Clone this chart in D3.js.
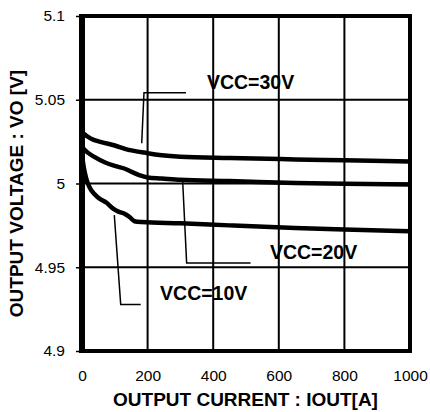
<!DOCTYPE html>
<html>
<head>
<meta charset="utf-8">
<script src="https://cdn.jsdelivr.net/npm/d3@7"></script>
<style>
	body { margin: 0; background: white; }
	svg { display: block; font-family: "Liberation Sans", Arial, sans-serif; }
</style>
</head>
<body>
<div id="chart"></div>
<script>
// output current (A) and output voltage (V)
const current30 = [0, 6, 28, 59, 100, 131, 200, 243, 300, 450, 650, 800, 1000];
const vo30 = [5.031, 5.0297, 5.0267, 5.0247, 5.0227, 5.0207, 5.0181, 5.0169, 5.0160, 5.0152, 5.0144, 5.0139, 5.0132];

const current20 = [0, 6, 39, 69, 100, 131, 160, 182, 200, 243, 300, 450, 650, 800, 1000];
const vo20 = [5.022, 5.0205, 5.0157, 5.0127, 5.0105, 5.0088, 5.0062, 5.0045, 5.0036, 5.0030, 5.0022, 5.0015, 5.0003, 4.9998, 4.9994];

const current10 = [0, 6, 13, 20, 30, 50, 75, 95, 111, 131, 145, 160, 182, 300, 450, 650, 800, 1000];
const vo10 = [5.017, 5.009, 5.003, 4.999, 4.9955, 4.9915, 4.9885, 4.985, 4.9832, 4.9818, 4.980, 4.9775, 4.977, 4.9762, 4.975, 4.9735, 4.9726, 4.9715];

const xTicks = [0, 200, 400, 600, 800, 1000];
const yTicks = [4.9, 4.95, 5, 5.05, 5.1];
const yTickLabels = ["4.9", "4.95", "5", "5.05", "5.1"];

const seriesNames = ["VCC=30V", "VCC=20V", "VCC=10V"];
// label anchor (current, voltage) and leader polyline for each series
const labelAt = [[381, 5.0564], [573, 4.9548], [238, 4.9303]];
const leaders = [
	[[317, 5.0542], [189, 5.0542], [182, 5.024]],
	[[514, 4.9526], [319, 4.9526], [307, 5.001]],
	[[179, 4.9278], [118, 4.9278], [98.5, 4.9811]]
];

const width = 430, height = 412;

const x = d3.scaleLinear().domain([0, 1000]).range([82, 410]);
const y = d3.scaleLinear().domain([4.9, 5.1]).range([351, 16]);

const svg = d3.select("#chart")
	.append("svg")
	.attr("width", width)
	.attr("height", height);

// grid
svg.append("g")
	.selectAll("line")
	.data(xTicks.slice(1, -1))
	.join("line")
	.attr("x1", d => x(d)).attr("x2", d => x(d))
	.attr("y1", y(5.1)).attr("y2", y(4.9))
	.attr("stroke", "#000")
	.attr("stroke-width", 2);

svg.append("g")
	.selectAll("line")
	.data(yTicks.slice(1, -1))
	.join("line")
	.attr("x1", x(0)).attr("x2", x(1000))
	.attr("y1", d => y(d)).attr("y2", d => y(d))
	.attr("stroke", "#000")
	.attr("stroke-width", 2);

// axes
const yAxis = svg.append("g")
	.attr("transform", `translate(${x(0)},0)`)
	.call(d3.axisLeft(y)
		.tickValues(yTicks)
		.tickSize(6)
		.tickPadding(11)
		.tickFormat((d, i) => yTickLabels[i]));
yAxis.select(".domain").remove();
yAxis.selectAll("line").attr("stroke-width", 1.5);
yAxis.selectAll("text")
	.attr("font-size", 15.5)
	.attr("font-family", "Liberation Sans, Arial, sans-serif")
	.attr("fill", "#000");

const xAxis = svg.append("g")
	.attr("transform", `translate(0,${y(4.9)})`)
	.call(d3.axisBottom(x)
		.tickValues(xTicks)
		.tickSize(0)
		.tickPadding(19)
		.tickFormat(d3.format("d")));
xAxis.select(".domain").remove();
xAxis.selectAll("text")
	.attr("font-size", 15.5)
	.attr("font-family", "Liberation Sans, Arial, sans-serif")
	.attr("fill", "#000");

// curves
const line = d3.line()
	.x(d => x(d[0]))
	.y(d => y(d[1]))
	.curve(d3.curveMonotoneX);

const series = [
	d3.zip(current30, vo30),
	d3.zip(current20, vo20),
	d3.zip(current10, vo10)
];

svg.append("g")
	.selectAll("path")
	.data(series)
	.join("path")
	.attr("d", line)
	.attr("fill", "none")
	.attr("stroke", "#000")
	.attr("stroke-width", 4.5)
	.attr("stroke-linejoin", "round");

// frame
svg.append("rect")
	.attr("x", x(0)).attr("y", y(5.1))
	.attr("width", x(1000) - x(0))
	.attr("height", y(4.9) - y(5.1))
	.attr("fill", "none")
	.attr("stroke", "#000")
	.attr("stroke-width", 4);
svg.append("line")
	.attr("x1", x(0)).attr("x2", x(0))
	.attr("y1", y(5.1) - 2).attr("y2", y(4.9) + 2)
	.attr("stroke", "#000")
	.attr("stroke-width", 6);

// leaders and labels
const leaderLine = d3.line().x(d => x(d[0])).y(d => y(d[1]));
svg.append("g")
	.selectAll("path")
	.data(leaders)
	.join("path")
	.attr("d", leaderLine)
	.attr("fill", "none")
	.attr("stroke", "#000")
	.attr("stroke-width", 1.5);

svg.append("g")
	.selectAll("text")
	.data(seriesNames)
	.join("text")
	.attr("x", (d, i) => x(labelAt[i][0]))
	.attr("y", (d, i) => y(labelAt[i][1]))
	.attr("font-size", 19.5)
	.attr("font-weight", "bold")
	.text(d => d);

// axis titles
svg.append("text")
	.attr("x", 245.5)
	.attr("y", 406)
	.attr("text-anchor", "middle")
	.attr("font-size", 19)
	.attr("font-weight", "bold")
	.text("OUTPUT CURRENT : IOUT[A]");

svg.append("text")
	.attr("transform", "translate(23,193.5) rotate(-90)")
	.attr("text-anchor", "middle")
	.attr("font-size", 19)
	.attr("font-weight", "bold")
	.text("OUTPUT VOLTAGE : VO [V]");
</script>
</body>
</html>
